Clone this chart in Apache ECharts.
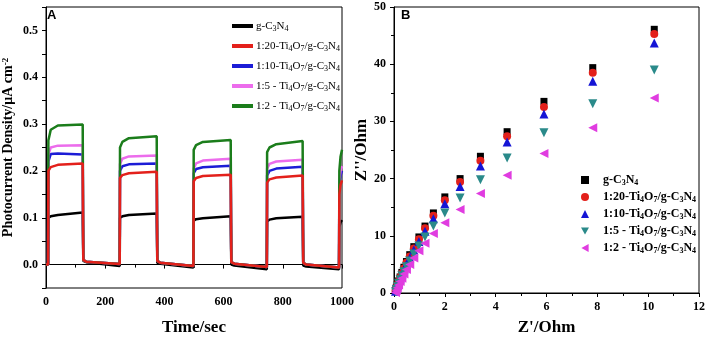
<!DOCTYPE html>
<html>
<head>
<meta charset="utf-8">
<script src="https://cdn.jsdelivr.net/npm/echarts@6/dist/echarts.min.js"></script>
<style>
  html, body { margin: 0; padding: 0; background: #fff; }
  #chart { width: 708px; height: 341px; }
</style>
</head>
<body>
<div id="chart"></div>
<script>
// sample names, same order in both panels
var sampleNames = ['g-C3N4', '1:20-Ti4O7/g-C3N4', '1:10-Ti4O7/g-C3N4', '1:5 - Ti4O7/g-C3N4', '1:2 - Ti4O7/g-C3N4']

// panel A: photocurrent (μA cm-2) vs time (s), light on/off cycles
var timeSec = [0, 7, 8, 16, 40, 124, 126, 136, 249, 250, 258, 280, 374, 376, 386, 498, 499, 507, 530, 624, 626, 636, 746, 747, 755, 778, 867, 869, 879, 990, 991, 995, 1000]
var curPure = [0, 0, 0.100, 0.103, 0.106, 0.111, 0.008, 0.005, -0.003, 0.100, 0.103, 0.106, 0.109, 0.004, 0.002, -0.006, 0.094, 0.097, 0.099, 0.103, 0.000, -0.002, -0.010, 0.092, 0.096, 0.099, 0.102, -0.002, -0.004, -0.010, 0.080, 0.090, 0.095]
var cur1to20 = [0, 0, 0.200, 0.208, 0.213, 0.216, 0.010, 0.006, 0.001, 0.185, 0.191, 0.195, 0.198, 0.008, 0.004, -0.003, 0.178, 0.185, 0.189, 0.192, 0.005, 0.002, -0.005, 0.175, 0.182, 0.186, 0.190, 0.004, 0.000, -0.006, 0.150, 0.170, 0.180]
var cur1to10 = [0, 0, 0.220, 0.236, 0.237, 0.235, 0.010, 0.006, 0.001, 0.200, 0.210, 0.214, 0.216, 0.008, 0.004, -0.003, 0.195, 0.204, 0.208, 0.211, 0.005, 0.002, -0.005, 0.190, 0.200, 0.205, 0.209, 0.004, 0.000, -0.006, 0.170, 0.190, 0.200]
var cur1to5 = [0, 0, 0.235, 0.250, 0.254, 0.255, 0.010, 0.006, 0.001, 0.215, 0.226, 0.231, 0.233, 0.008, 0.004, -0.003, 0.205, 0.216, 0.222, 0.226, 0.005, 0.002, -0.005, 0.205, 0.215, 0.220, 0.224, 0.004, 0.000, -0.006, 0.180, 0.200, 0.210]
var cur1to2 = [0, 0, 0.265, 0.288, 0.297, 0.299, 0.010, 0.006, 0.001, 0.250, 0.262, 0.270, 0.274, 0.008, 0.004, -0.003, 0.245, 0.255, 0.262, 0.266, 0.005, 0.002, -0.005, 0.240, 0.250, 0.257, 0.264, 0.004, 0.000, -0.006, 0.200, 0.230, 0.245]

// panel B: Nyquist plot, Z' and Z'' in Ohm
var zReal = [10.24, 7.82, 5.90, 4.45, 3.40, 2.60, 2.00, 1.55, 1.22, 0.98, 0.78, 0.62, 0.49, 0.39, 0.31, 0.24, 0.18, 0.13, 0.09, 0.06]
var zImPure = [46.1, 39.4, 33.5, 28.2, 23.9, 20.0, 16.8, 14.0, 11.7, 9.8, 8.1, 6.7, 5.5, 4.5, 3.6, 2.8, 2.1, 1.5, 1.0, 0.5]
var zIm1to20 = [45.3, 38.5, 32.5, 27.4, 23.1, 19.4, 16.2, 13.5, 11.3, 9.4, 7.8, 6.4, 5.3, 4.3, 3.4, 2.7, 2.0, 1.4, 0.9, 0.4]
var zIm1to10 = [43.7, 37.0, 31.3, 26.4, 22.2, 18.6, 15.6, 13.0, 10.8, 9.0, 7.5, 6.1, 5.0, 4.1, 3.3, 2.5, 1.9, 1.3, 0.8, 0.3]
var zIm1to5 = [39.0, 33.1, 28.0, 23.6, 19.8, 16.6, 14.0, 11.7, 9.8, 8.2, 6.8, 5.6, 4.6, 3.7, 3.0, 2.3, 1.7, 1.1, 0.6, 0.2]
var zIm1to2 = [34.1, 28.9, 24.4, 20.6, 17.4, 14.6, 12.3, 10.4, 8.7, 7.4, 6.1, 5.0, 4.1, 3.3, 2.6, 2.0, 1.4, 0.9, 0.5, 0.1]

var serif = 'Liberation Serif'
var lineColors = ['#000000', '#e3201b', '#1c1cd6', '#ec6cec', '#1b7d1b']
var dotColors = ['#000000', '#e3201b', '#1515d5', '#2a8a8a', '#e03ce0']
var dotSymbols = ['rect', 'circle', 'triangle', 'triangle', 'triangle']
var dotRotate = [0, 0, 0, 180, 90]
var dotSizes = [7, 8, 9, 9, 9]
// legend icons (legend does not pick up symbolRotate)
var legendIcons = ['rect', 'circle', 'triangle', 'path://M0,0 L10,0 L5,9 Z', 'path://M9,0 L9,10 L0,5 Z']

function pairs (xs, ys) {
  return xs.map(function (x, i) { return [x, ys[i]] })
}
// turn "Ti4O7" into rich text with subscripts
function subs (name) {
  return name.trim().replace(/([A-Za-z])(\d)/g, '$1{s|$2}')
}

var curves = [curPure, cur1to20, cur1to10, cur1to5, cur1to2]
var zIms = [zImPure, zIm1to20, zIm1to10, zIm1to5, zIm1to2]
var namesB = sampleNames.map(function (n) { return n + ' ' })

var series = []
curves.forEach(function (c, i) {
  series.push({
    type: 'line',
    name: sampleNames[i],
    xAxisIndex: 0,
    yAxisIndex: 0,
    data: pairs(timeSec, c),
    showSymbol: false,
    z: i === 1 ? 4 : 2,
    lineStyle: { color: lineColors[i], width: 2.5 },
    itemStyle: { color: lineColors[i] },
    animation: false
  })
})
zIms.forEach(function (z, i) {
  series.push({
    type: 'scatter',
    name: namesB[i],
    xAxisIndex: 1,
    yAxisIndex: 1,
    data: pairs(zReal, z),
    symbol: dotSymbols[i],
    symbolRotate: dotRotate[i],
    symbolSize: dotSizes[i],
    itemStyle: { color: dotColors[i], opacity: 1 },
    animation: false
  })
})

var tickLabel = { fontFamily: serif, fontWeight: 'bold', fontSize: 12, color: '#000' }
var axisLine = { show: true, lineStyle: { color: '#000', width: 1 } }

var option = {
  backgroundColor: '#fff',
  title: [
    { text: 'A', left: 47, top: 9, padding: 0, textStyle: { fontFamily: 'Liberation Sans', fontWeight: 'bold', fontSize: 13, color: '#000' } },
    { text: 'B', left: 401, top: 9, padding: 0, textStyle: { fontFamily: 'Liberation Sans', fontWeight: 'bold', fontSize: 13, color: '#000' } }
  ],
  grid: [
    { left: 43, top: 7, width: 299, height: 284, show: true, borderColor: '#000', borderWidth: 1 },
    { left: 394, top: 7, width: 306, height: 290, show: true, borderColor: '#000', borderWidth: 1 }
  ],
  legend: [
    {
      data: sampleNames,
      orient: 'vertical',
      left: 232,
      top: 19,
      itemGap: 6,
      icon: 'rect',
      itemWidth: 21,
      itemHeight: 4,
      padding: 0,
      formatter: subs,
      textStyle: {
        fontFamily: serif, fontSize: 11, color: '#000', lineHeight: 14, padding: [0, 0, 0, -2],
        rich: { s: { fontFamily: serif, fontSize: 8, lineHeight: 8, verticalAlign: 'bottom', color: '#000' } }
      }
    },
    {
      data: namesB.map(function (n, i) { return { name: n, icon: legendIcons[i] } }),
      orient: 'vertical',
      left: 581,
      top: 173,
      itemGap: 3,
      itemWidth: 8,
      itemHeight: 8,
      padding: 0,
      formatter: subs,
      textStyle: {
        fontFamily: serif, fontWeight: 'bold', fontSize: 12, color: '#000', lineHeight: 14, padding: [0, 0, 0, 9],
        rich: { s: { fontFamily: serif, fontWeight: 'bold', fontSize: 8, lineHeight: 8, verticalAlign: 'bottom', color: '#000' } }
      }
    }
  ],
  xAxis: [
    {
      gridIndex: 0,
      type: 'value',
      min: 0,
      max: 1000,
      interval: 200,
      name: 'Time/sec',
      nameLocation: 'middle',
      nameGap: 31,
      nameTextStyle: { fontFamily: serif, fontWeight: 'bold', fontSize: 17, color: '#000' },
      axisLine: axisLine,
      axisTick: { show: true, length: 4, lineStyle: { color: '#000' } },
      minorTick: { show: true, splitNumber: 2, length: 3, lineStyle: { color: '#000' } },
      axisLabel: Object.assign({}, tickLabel, {
        formatter: function (v) { return String(v) }
      }),
      splitLine: { show: false }
    },
    {
      gridIndex: 1,
      type: 'value',
      min: 0,
      max: 12,
      interval: 2,
      name: "Z'/Ohm",
      nameLocation: 'middle',
      nameGap: 26,
      nameTextStyle: { fontFamily: serif, fontWeight: 'bold', fontSize: 17, color: '#000' },
      axisLine: axisLine,
      axisTick: { show: true, length: 4, lineStyle: { color: '#000' } },
      minorTick: { show: true, splitNumber: 2, length: 3, lineStyle: { color: '#000' } },
      axisLabel: tickLabel,
      splitLine: { show: false }
    }
  ],
  yAxis: [
    {
      gridIndex: 0,
      type: 'value',
      min: -0.05,
      max: 0.55,
      interval: 0.05,
      name: 'Photocurrent Density/μA cm{sup|-2}',
      nameLocation: 'middle',
      nameGap: 31,
      nameTextStyle: {
        fontFamily: serif, fontWeight: 'bold', fontSize: 14, color: '#000',
        rich: { sup: { fontFamily: serif, fontWeight: 'bold', fontSize: 9, lineHeight: 9, verticalAlign: 'top', color: '#000' } }
      },
      axisLine: axisLine,
      axisTick: { show: true, length: 4, lineStyle: { color: '#000' } },
      axisLabel: Object.assign({}, tickLabel, {
        formatter: function (v) {
          var k = Math.round(v * 100)
          return (k % 10 === 0) ? (k / 100).toFixed(1) : ''
        }
      }),
      splitLine: { show: false }
    },
    {
      gridIndex: 1,
      type: 'value',
      min: 0,
      max: 50,
      interval: 10,
      name: "Z''/Ohm",
      nameLocation: 'middle',
      nameGap: 24,
      nameTextStyle: { fontFamily: serif, fontWeight: 'bold', fontSize: 17, color: '#000' },
      axisLine: axisLine,
      axisTick: { show: true, length: 4, lineStyle: { color: '#000' } },
      minorTick: { show: true, splitNumber: 2, length: 3, lineStyle: { color: '#000' } },
      axisLabel: tickLabel,
      splitLine: { show: false }
    }
  ],
  series: series
}

var chart = echarts.init(document.getElementById('chart'), null, { renderer: 'canvas' })
chart.setOption(option)
</script>
</body>
</html>
